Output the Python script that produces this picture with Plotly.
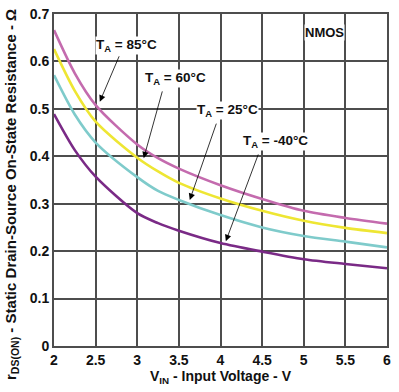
import plotly.graph_objects as go

vin = [2.0, 2.25, 2.5, 3.0, 3.25, 3.5, 4.0, 4.5, 5.0, 5.5, 6.0]
r_85 = [0.666, 0.575, 0.508, 0.425, 0.396, 0.374, 0.339, 0.310, 0.285, 0.270, 0.258]
r_60 = [0.626, 0.538, 0.473, 0.397, 0.368, 0.344, 0.311, 0.285, 0.264, 0.249, 0.238]
r_25 = [0.571, 0.488, 0.429, 0.356, 0.327, 0.308, 0.276, 0.250, 0.232, 0.220, 0.208]
r_m40 = [0.489, 0.413, 0.357, 0.280, 0.259, 0.243, 0.217, 0.199, 0.183, 0.173, 0.164]

series = [
    ("85", r_85, "#C46BAE"),
    ("60", r_60, "#EEE633"),
    ("25", r_25, "#7FCBCB"),
    ("-40", r_m40, "#7A2A86"),
]

x_ticks = [2, 2.5, 3, 3.5, 4, 4.5, 5, 5.5, 6]
x_tick_text = ["2", "2.5", "3", "3.5", "4", "4.5", "5", "5.5", "6"]
y_ticks = [0, 0.1, 0.2, 0.3, 0.4, 0.5, 0.6, 0.7]
y_tick_text = ["0", "0.1", "0.2", "0.3", "0.4", "0.5", "0.6", "0.7"]

FONT = "Liberation Sans"
GRID = "#4d4d4d"

fig = go.Figure()
for name, vals, col in series:
    fig.add_trace(go.Scatter(x=vin, y=vals, mode="lines", name=name,
                             line=dict(color=col, width=2.6, shape="spline", smoothing=0.8),
                             showlegend=False, hoverinfo="skip"))

# labels (text) and arrows
labels = [
    ("T<sub>A</sub> = 85°C", 2.875, 0.633, (2.79, 0.614), (2.55, 0.515)),
    ("T<sub>A</sub> = 60°C", 3.463, 0.565, (3.306, 0.54), (3.078, 0.396)),
    ("T<sub>A</sub> = 25°C", 4.088, 0.4976, (3.956, 0.472), (3.631, 0.308)),
    ("T<sub>A</sub> = -40°C", 4.665, 0.432, (4.46, 0.407), (4.064, 0.221)),
]
for txt, tx, ty, tail, tip in labels:
    fig.add_annotation(x=tip[0], y=tip[1], ax=tail[0], ay=tail[1], axref="x", ayref="y",
                       xref="x", yref="y", text="", showarrow=True, arrowhead=2,
                       arrowsize=1.6, arrowwidth=0.8, arrowcolor="black")
    fig.add_annotation(x=tx, y=ty, xref="x", yref="y", text="<b>" + txt + "</b>",
                       showarrow=False, bgcolor="white", borderpad=0,
                       font=dict(family=FONT, size=13.5, color="#111111"))

fig.add_annotation(x=5.254, y=0.662, xref="x", yref="y", text="<b>NMOS</b>",
                   showarrow=False, bgcolor="white", borderpad=0,
                   font=dict(family=FONT, size=13, color="#111111"))

# y axis title as rotated annotation
fig.add_annotation(x=-0.126, y=0.455, xref="paper", yref="paper", textangle=-90,
                   xanchor="center", yanchor="middle", showarrow=False,
                   text="<b>r<sub>DS(ON)</sub> - Static Drain-Source On-State Resistance - Ω</b>",
                   font=dict(family=FONT, size=15, color="#111111"))

fig.update_layout(
    width=399, height=392,
    margin=dict(l=54, r=12, t=14, b=46),
    paper_bgcolor="white", plot_bgcolor="white",
    font=dict(family=FONT, color="#111111"),
)
fig.update_xaxes(range=[2, 6], tickvals=x_ticks, ticktext=x_tick_text, automargin=False,
                 showgrid=True, gridcolor=GRID, gridwidth=1.8,
                 showline=True, linecolor=GRID, linewidth=1.8, mirror=True,
                 zeroline=False, ticks="",
                 tickfont=dict(family=FONT, size=14, weight="bold"),
                 title=dict(text="<b>V<sub>IN</sub> - Input Voltage - V</b>",
                            font=dict(family=FONT, size=14), standoff=4))
fig.update_yaxes(range=[0, 0.7], tickvals=y_ticks, ticktext=y_tick_text, automargin=False,
                 showgrid=True, gridcolor=GRID, gridwidth=1.8,
                 showline=True, linecolor=GRID, linewidth=1.8, mirror=True,
                 zeroline=False, ticks="",
                 tickfont=dict(family=FONT, size=14, weight="bold"))

fig.write_html("out.html", config={"displayModeBar": False},
               post_script="document.body.style.margin='0';document.body.style.overflow='hidden';")
